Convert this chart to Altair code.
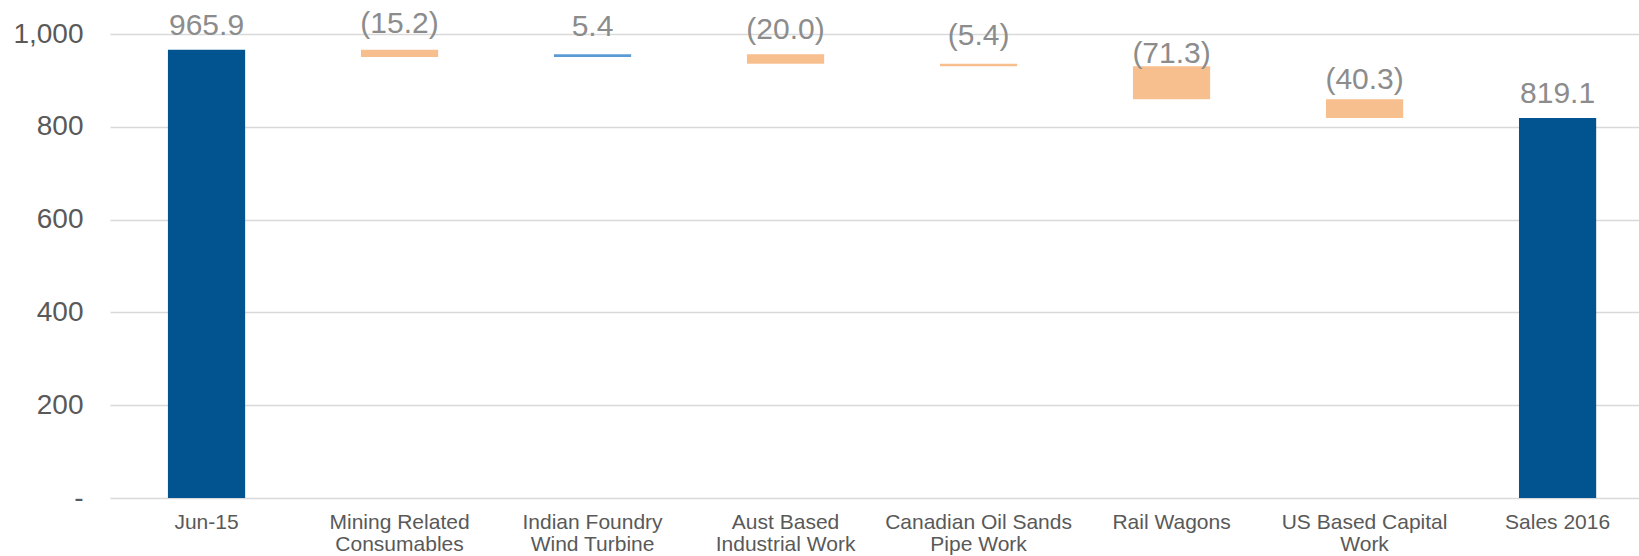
import altair as alt
import pandas as pd

categories = [
    "Jun-15",
    "Mining Related\nConsumables",
    "Indian Foundry\nWind Turbine",
    "Aust Based\nIndustrial Work",
    "Canadian Oil Sands\nPipe Work",
    "Rail Wagons",
    "US Based Capital\nWork",
    "Sales 2016",
]
values = [965.9, -15.2, 5.4, -20.0, -5.4, -71.3, -40.3, 819.1]
kinds = ["total", "delta", "delta", "delta", "delta", "delta", "delta", "total"]
y_ticks = [0, 200, 400, 600, 800, 1000]

rows = []
running = 0.0
for cat, v, k in zip(categories, values, kinds):
    if k == "total":
        start, end = 0.0, v
        running = v
        label = f"{v:,.1f}"
        kind = "total"
    else:
        start, end = running, running + v
        running = end
        label = f"({abs(v):.1f})" if v < 0 else f"{v:.1f}"
        kind = "decrease" if v < 0 else "increase"
    rows.append(dict(cat=cat, start=start, end=end, mid=(start + end) / 2,
                     label=label, kind=kind, is_total=(k == "total")))
df = pd.DataFrame(rows)

FONT = "Liberation Sans"

x = alt.X(
    "cat:N",
    sort=categories,
    title=None,
    scale=alt.Scale(paddingInner=0.6, paddingOuter=0.261, align=0.575),
    axis=alt.Axis(
        labelExpr="split(datum.label, '\\n')",
        labelAngle=0,
        labelFont=FONT,
        labelFontSize=21,
        labelLineHeight=22,
        labelColor="#595959",
        labelPadding=13,
        labelLimit=400,
        ticks=False,
        domain=False,
        grid=False,
    ),
)

bars = alt.Chart(df).mark_bar().encode(
    x=x,
    y=alt.Y(
        "start:Q",
        title=None,
        scale=alt.Scale(domain=[0, 1000], nice=False),
        axis=alt.Axis(
            values=y_ticks,
            labelExpr="datum.value == 0 ? '-' : format(datum.value, ',')",
            labelFont=FONT,
            labelFontSize=28,
            labelColor="#595959",
            labelPadding=27,
            ticks=False,
            domain=False,
            grid=True,
            gridColor="#d9d9d9",
            gridWidth=1.5,
        ),
    ),
    y2="end:Q",
    color=alt.Color(
        "kind:N",
        scale=alt.Scale(domain=["total", "increase", "decrease"],
                        range=["#01548F", "#5B9BD5", "#F8BF8E"]),
        legend=None,
    ),
)

total_labels = alt.Chart(df).transform_filter("datum.is_total").mark_text(
    font=FONT, fontSize=30, color="#8C8C8C", baseline="alphabetic", dy=-15
).encode(x=x, y="end:Q", text="label:N")

delta_labels = alt.Chart(df).transform_filter("!datum.is_total").mark_text(
    font=FONT, fontSize=30, color="#8C8C8C", baseline="middle", dy=-29
).encode(x=x, y="mid:Q", text="label:N")

chart = (
    alt.layer(bars, total_labels, delta_labels)
    .properties(
        width=1529,
        height=464,
        background="white",
        autosize=alt.AutoSizeParams(type="none"),
        padding={"left": 110, "top": 34, "right": 0, "bottom": 58},
    )
    .configure_view(strokeWidth=0)
    .configure_axis(domain=False)
)

chart.save("out.html", embed_options={"renderer": "svg", "actions": False})
